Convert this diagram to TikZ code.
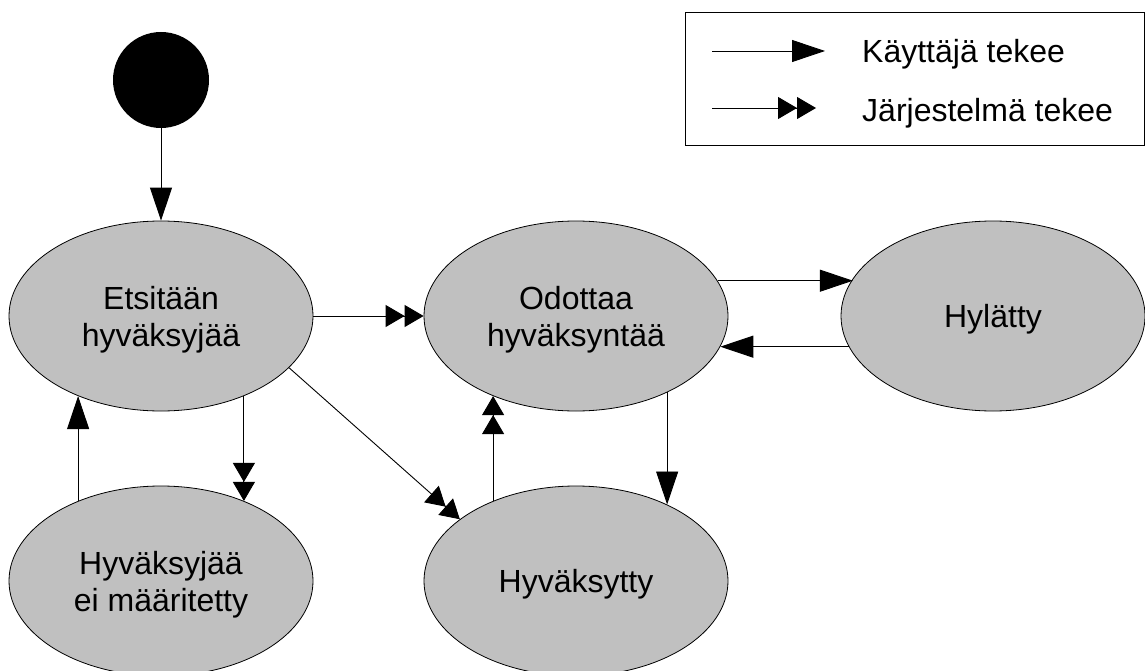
\documentclass[tikz,border=0pt]{standalone}
\usepackage{fontspec}
\setmainfont{Liberation Sans}
\usetikzlibrary{arrows.meta,shapes.geometric}

\definecolor{stategray}{RGB}{192,192,192}
\tikzset{
  state/.style={ellipse, draw=black, line width=0.8pt, fill=stategray,
    minimum width=304pt, minimum height=190pt, inner sep=0pt,
    align=center, text depth=0pt, font=\fontsize{32}{37}\selectfont},
  conn/.style={draw=black, line width=0.9pt},
  userarrow/.style={conn, -{Triangle[length=33pt,width=22pt]}},
  sysarrow/.style={conn, -{Triangle[length=19pt,width=22pt]Triangle[length=19pt,width=22pt]}},
  legendtext/.style={anchor=base west, inner sep=0pt, font=\fontsize{32}{37}\selectfont}
}

\begin{document}
\begin{tikzpicture}[x=1pt,y=-1pt]
  \useasboundingbox (0,0) rectangle (1145,671);

  % initial state
  \node[circle, fill=black, minimum size=96pt, inner sep=0pt] (start) at (161,80) {};

  % states
  \node[state] (search)   at (161,316) {Etsitään\\hyväksyjää};
  \node[state] (waiting)  at (576,316) {Odottaa\\hyväksyntää};
  \node[state] (rejected) at (993,316) {Hylätty};
  \node[state] (noappr)   at (161,581) {Hyväksyjää\\ei määritetty};
  \node[state] (accepted) at (576,581) {Hyväksytty};

  % transitions
  \draw[userarrow] (start) -- (search);
  \draw[sysarrow]  (search) -- (waiting);
  \draw[userarrow] (waiting.14.8) -- (rejected.165.2 |- waiting.14.8);
  \draw[userarrow] (rejected.192.6) -- (waiting.-12.6 |- rejected.192.6);
  \draw[sysarrow]  (search.-44.3) -- (search.-44.3 |- noappr.44.3);
  \draw[userarrow] (noappr.136.7) -- (noappr.136.7 |- search.-136.7);
  \draw[sysarrow]  (search.-22.4) -- (accepted.152.5);
  \draw[sysarrow]  (accepted.136.2) -- (accepted.136.2 |- waiting.-136.2);
  \draw[userarrow] (waiting.-40.4) -- (waiting.-40.4 |- accepted.40.4);

  % legend
  \node[draw=black, line width=0.8pt, minimum width=459pt, minimum height=133pt,
        inner sep=0pt, anchor=north west] (legend) at (685,12) {};
  \coordinate (ua) at (712,51);
  \coordinate (ub) at (825,51);
  \coordinate (sa) at (712,108);
  \coordinate (sb) at (816,108);
  \draw[userarrow] (ua) -- (ub);
  \draw[sysarrow]  (sa) -- (sb);
  \node[legendtext] (lu) at (862,63) {Käyttäjä tekee};
  \node[legendtext] (ls) at (862,122) {Järjestelmä tekee};
\end{tikzpicture}
\end{document}
